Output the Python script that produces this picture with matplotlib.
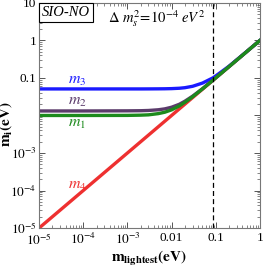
import matplotlib
matplotlib.use("Agg")
import matplotlib.pyplot as plt
from matplotlib.ticker import LogLocator, FixedLocator, FixedFormatter, NullFormatter

plt.rcParams['font.family'] = ['Liberation Serif', 'DejaVu Serif']
plt.rcParams['mathtext.fontset'] = 'stix'

# lightest mass (eV)
m_light = [1e-5, 1e-4, 1e-3, 2e-3, 3e-3, 5e-3, 7e-3, 0.01, 0.015, 0.02, 0.03, 0.05, 0.087, 0.1, 0.2, 0.5, 1.0]
m1 = [0.0100, 0.0100, 0.01005, 0.0102, 0.0104, 0.0112, 0.0122, 0.0141, 0.0180, 0.0224, 0.0316, 0.0510, 0.0876, 0.1005, 0.2002, 0.5001, 1.0]
m2 = [0.0132, 0.0132, 0.0133, 0.0134, 0.0136, 0.0142, 0.0150, 0.0166, 0.0199, 0.0240, 0.0328, 0.0517, 0.0880, 0.1009, 0.2004, 0.5002, 1.0]
m3 = [0.0510, 0.0510, 0.0510, 0.0510, 0.0511, 0.0513, 0.0515, 0.0520, 0.0532, 0.0550, 0.0600, 0.0730, 0.1010, 0.1130, 0.2060, 0.5030, 1.0]
m4 = [1e-5, 1e-4, 1e-3, 2e-3, 3e-3, 5e-3, 7e-3, 0.01, 0.015, 0.02, 0.03, 0.05, 0.087, 0.1, 0.2, 0.5, 1.0]
vline_x = 0.087

xticks = [1e-5, 1e-4, 1e-3, 1e-2, 1e-1, 1]
xticklabels = [r'$10^{-5}$', r'$10^{-4}$', r'$10^{-3}$', '0.01', '0.1', '1']
yticks = [1e-5, 1e-4, 1e-3, 1e-2, 1e-1, 1, 10]
yticklabels = [r'$10^{-5}$', r'$10^{-4}$', r'$10^{-3}$', '', '0.1', '1', '10']

fig = plt.figure(figsize=(2.66, 2.67), dpi=100)
ax = fig.add_axes([0.147, 0.146, 0.83, 0.843])

ax.plot(m_light, m4, color='#ee3030', lw=2.4, solid_capstyle='butt')
ax.plot(m_light, m3, color='#1a1aff', lw=2.4)
ax.plot(m_light, m2, color='#5b3b6b', lw=2.4)
ax.plot(m_light, m1, color='#1c8a1c', lw=2.4)
ax.axvline(vline_x, color='black', lw=0.9, ls=(0, (4, 2.5)))

ax.set_xscale('log')
ax.set_yscale('log')
ax.set_xlim(1e-5, 1)
ax.set_ylim(1e-5, 10)

ax.xaxis.set_major_locator(FixedLocator(xticks))
ax.xaxis.set_major_formatter(FixedFormatter(xticklabels))
ax.yaxis.set_major_locator(FixedLocator(yticks))
ax.yaxis.set_major_formatter(FixedFormatter(yticklabels))
ax.xaxis.set_minor_locator(LogLocator(base=10, subs=range(2, 10), numticks=20))
ax.yaxis.set_minor_locator(LogLocator(base=10, subs=range(2, 10), numticks=20))
ax.xaxis.set_minor_formatter(NullFormatter())
ax.yaxis.set_minor_formatter(NullFormatter())
ax.tick_params(which='both', direction='in', top=True, right=True, colors='#555555', labelcolor='black', labelsize=9.5, pad=2)
ax.tick_params(axis='x', which='major', pad=3)
ax.tick_params(which='major', length=4, width=0.7)
ax.tick_params(which='minor', length=2, width=0.5)
for s in ax.spines.values():
    s.set_color('#777777')
    s.set_linewidth(0.8)

ax.set_xlabel(r'$\mathbf{m_{lightest}}$' + r'$\mathbf{(eV)}$', fontsize=11, labelpad=1)
ax.set_ylabel(r'$\mathbf{m_{i}}$' + r'$\mathbf{(eV)}$', fontsize=11, labelpad=0)
ax.yaxis.set_label_coords(-0.112, 0.46)

ax.text(0.012, 0.985, 'SIO-NO', transform=ax.transAxes, fontsize=10.5, style='italic',
        va='top', ha='left', bbox=dict(boxstyle='square,pad=0.2', fc='white', ec='black', lw=0.8))
ax.text(0.31, 0.975, r'$\Delta\ m_s^2\!=\!10^{-4}\ eV^2$', transform=ax.transAxes, fontsize=10.5,
        va='top', ha='left')

ax.text(4.5e-5, 0.068, r'$m_3$', color='#1a1aff', fontsize=11.5)
ax.text(4.5e-5, 0.0195, r'$m_2$', color='#5b3b6b', fontsize=11.5)
ax.text(4.5e-5, 0.0050, r'$m_1$', color='#1c8a1c', fontsize=11.5)
ax.text(4.5e-5, 1.1e-4, r'$m_4$', color='#ee3030', fontsize=11.5)

fig.savefig('out.png', dpi=100)
